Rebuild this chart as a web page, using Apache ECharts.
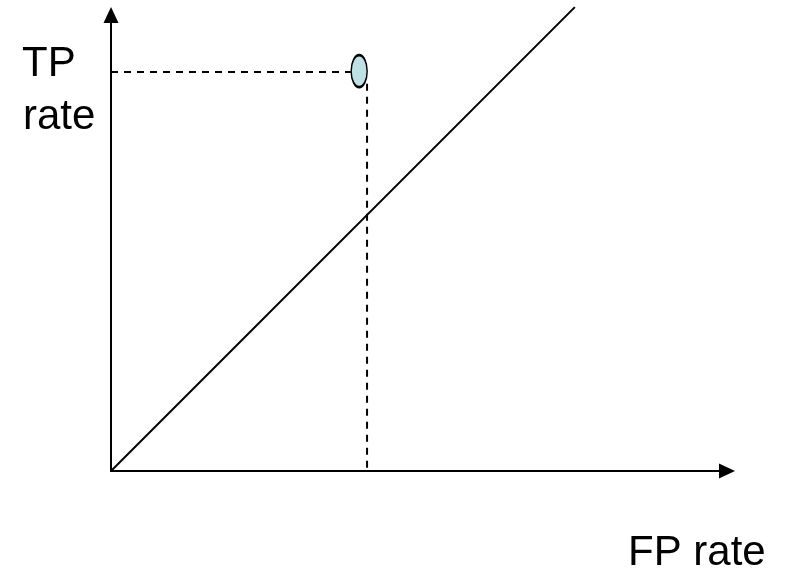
<!DOCTYPE html>
<html>
<head>
<meta charset="utf-8">
<script src="https://cdn.jsdelivr.net/npm/echarts@6/dist/echarts.min.js"></script>
<style>
  html, body { margin: 0; padding: 0; background: #fff; }
  #chart { width: 793px; height: 579px; }
</style>
</head>
<body>
<div id="chart"></div>
<script>
// ROC sketch: one classifier point above the chance diagonal
const diagonalLine = [[0, 0], [1, 1]]
const classifierPoint = [[0.535, 0.862]]
const tpGuide = [[0, 0.86], [0.517, 0.86]]      // dashed line from TP axis to the point
const fpGuide = [[0.552, 0.835], [0.552, 0]]    // dashed line from the point down to FP axis
const axisMax = { x: 1.328, y: 0.983 }

const chart = echarts.init(document.getElementById('chart'))

const axisCommon = {
  type: 'value',
  min: 0,
  axisLine: {
    show: true,
    onZero: false,
    symbol: ['none', 'triangle'],
    symbolSize: [15, 16],
    lineStyle: { color: '#000', width: 2 }
  },
  axisTick: { show: false },
  axisLabel: { show: false },
  splitLine: { show: false }
}

const labelFont = '42px "Liberation Sans", Arial, sans-serif'

const option = {
  animation: false,
  backgroundColor: '#fff',
  grid: { left: 111, top: 15, right: 66, bottom: 108 },
  xAxis: Object.assign({}, axisCommon, { max: axisMax.x }),
  yAxis: Object.assign({}, axisCommon, { max: axisMax.y }),
  series: [
    {
      type: 'line',
      data: diagonalLine,
      clip: false,
      symbol: 'none',
      lineStyle: { color: '#000', width: 2 }
    },
    {
      type: 'line',
      data: tpGuide,
      symbol: 'none',
      lineStyle: { color: '#000', width: 2, type: [7, 6] }
    },
    {
      type: 'line',
      data: fpGuide,
      symbol: 'none',
      lineStyle: { color: '#000', width: 2, type: [7, 6] }
    },
    {
      type: 'scatter',
      data: classifierPoint,
      symbol: 'circle',
      symbolSize: [16, 32],
      itemStyle: { color: '#bde1e5', borderColor: '#000', borderWidth: 2, opacity: 1 }
    }
  ],
  graphic: [
    {
      type: 'text',
      x: 22, y: 64,
      style: { text: 'TP', font: labelFont, fill: '#000', verticalAlign: 'middle' }
    },
    {
      type: 'text',
      x: 23, y: 117,
      style: { text: 'rate', font: labelFont, fill: '#000', verticalAlign: 'middle' }
    },
    {
      type: 'text',
      x: 628, y: 553,
      style: { text: 'FP rate', font: labelFont, fill: '#000', verticalAlign: 'middle' }
    }
  ]
}

chart.setOption(option)
</script>
</body>
</html>
